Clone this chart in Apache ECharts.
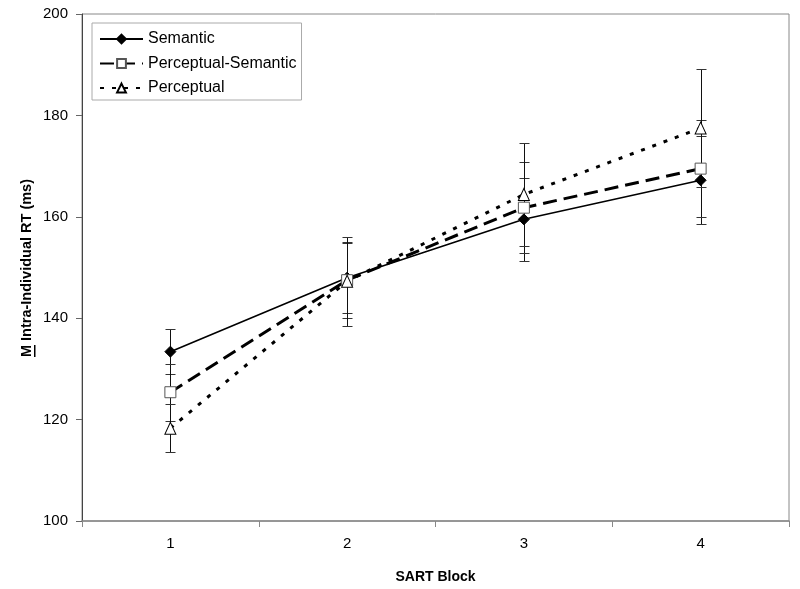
<!DOCTYPE html>
<html><head><meta charset="utf-8">
<script src="https://cdn.jsdelivr.net/npm/echarts@6/dist/echarts.min.js"></script>
<style>html,body{margin:0;padding:0;background:#fff}#c{width:800px;height:589px}</style>
</head><body><div id="c"></div>
<script>
// ---- data ----
const categories = ['1', '2', '3', '4'];
const seriesNames = ['Semantic', 'Perceptual-Semantic', 'Perceptual'];
const semanticMean = [133.4, 148.0, 159.5, 167.2];
const semanticErr = [4.4, 7.0, 8.2, 8.7];
const percSemMean = [125.4, 147.5, 161.8, 169.5];
const percSemErr = [5.6, 7.4, 9.0, 9.5];
const perceptualMean = [118.3, 147.3, 164.4, 177.5];
const perceptualErr = [4.7, 8.8, 10.2, 11.6];
const yMin = 100, yMax = 200, yInterval = 20;
const xTitle = 'SART Block';
const yTitleM = 'M';
const yTitleRest = ' Intra-Individual RT (ms)';

const FONT = '"Liberation Sans", Arial, Helvetica, sans-serif';

function errSeries(name, means, errs) {
  return {
    type: 'custom', name: name + ' error', silent: true, z: 1,
    data: means.map((m, i) => [i, m - errs[i], m + errs[i]]),
    encode: { x: 0, y: [1, 2] },
    renderItem(params, api) {
      const x = api.value(0);
      const lo = api.coord([x, api.value(1)]);
      const hi = api.coord([x, api.value(2)]);
      const cx = Math.round(lo[0]) + 0.5;
      const ly = Math.round(lo[1]) + 0.5, hy = Math.round(hi[1]) + 0.5;
      const hw = 5;
      return { type: 'group', children: [
        { type: 'line', shape: { x1: cx, y1: ly, x2: cx, y2: hy }, style: { stroke: '#111', lineWidth: 1 } },
        { type: 'line', shape: { x1: cx - hw, y1: ly, x2: cx + hw, y2: ly }, style: { stroke: '#333', lineWidth: 1 } },
        { type: 'line', shape: { x1: cx - hw, y1: hy, x2: cx + hw, y2: hy }, style: { stroke: '#333', lineWidth: 1 } }
      ]};
    }
  };
}

const chart = echarts.init(document.getElementById('c'), null, { renderer: 'canvas' });

// measure title text for the underline under "M"
const ctx = document.createElement('canvas').getContext('2d');
const titleFont = 'bold 14.5px ' + FONT;
ctx.font = titleFont;
const fullW = ctx.measureText(yTitleM + yTitleRest).width;
const mW = ctx.measureText(yTitleM).width;

const option = {
  animation: false,
  backgroundColor: '#fff',
  textStyle: { fontFamily: FONT, color: '#000' },
  grid: { left: 82, right: 11, top: 14, bottom: 67, show: true, borderColor: '#888', borderWidth: 1, backgroundColor: 'transparent' },
  legend: {
    data: seriesNames,
    orient: 'vertical', left: 92, top: 23,
    padding: [8, 5, 4, 7],
    itemGap: 8.5, itemWidth: 43, itemHeight: 11,
    borderColor: '#aaa', borderWidth: 1, backgroundColor: '#fff',
    textStyle: { fontSize: 16, color: '#000', fontFamily: FONT }
  },
  xAxis: {
    type: 'category', data: categories, boundaryGap: true,
    axisLine: { lineStyle: { color: '#888', width: 1.5 } },
    axisTick: { show: true, length: 6, inside: false, lineStyle: { color: '#888' } },
    axisLabel: { fontSize: 15, color: '#000', margin: 15, fontFamily: FONT },
    name: xTitle, nameLocation: 'middle', nameGap: 49,
    nameTextStyle: { fontSize: 14, fontWeight: 'bold', color: '#000', fontFamily: FONT },
    splitLine: { show: false }
  },
  yAxis: {
    type: 'value', min: yMin, max: yMax, interval: yInterval,
    axisLine: { show: true, lineStyle: { color: '#444', width: 1 } },
    axisTick: { show: true, length: 6, lineStyle: { color: '#666' } },
    axisLabel: { fontSize: 15, color: '#000', margin: 14, fontFamily: FONT },
    splitLine: { show: false }
  },
  graphic: [{
    type: 'group', x: 27, y: 268, rotation: Math.PI / 2,
    children: [
      { type: 'text', x: 0, y: 0, style: { text: yTitleM + yTitleRest, font: titleFont, fill: '#000', align: 'center', verticalAlign: 'middle' } },
      { type: 'rect', shape: { x: -fullW / 2, y: 7, width: mW, height: 1.5 }, style: { fill: '#000' } }
    ]
  }],
  series: [
    errSeries('Semantic', semanticMean, semanticErr),
    errSeries('Perceptual-Semantic', percSemMean, percSemErr),
    errSeries('Perceptual', perceptualMean, perceptualErr),
    {
      name: 'Semantic', type: 'line', data: semanticMean, z: 3,
      symbol: 'diamond', symbolSize: 11,
      lineStyle: { color: '#000', width: 1.6, type: 'solid' },
      itemStyle: { color: '#000', borderColor: '#000', borderWidth: 1 }
    },
    {
      name: 'Perceptual-Semantic', type: 'line', data: percSemMean, z: 3,
      symbol: 'rect', symbolSize: 11, showAllSymbol: true,
      lineStyle: { color: '#000', width: 3, type: [14, 7] },
      itemStyle: { color: '#fff', borderColor: '#555', borderWidth: 1 }
    },
    {
      name: 'Perceptual', type: 'line', data: perceptualMean, z: 3,
      symbol: 'triangle', symbolSize: [11, 12],
      lineStyle: { color: '#000', width: 3, type: [4, 8] },
      itemStyle: { color: '#fff', borderColor: '#000', borderWidth: 1 }
    }
  ]
};
chart.setOption(option);
</script>
</body></html>
